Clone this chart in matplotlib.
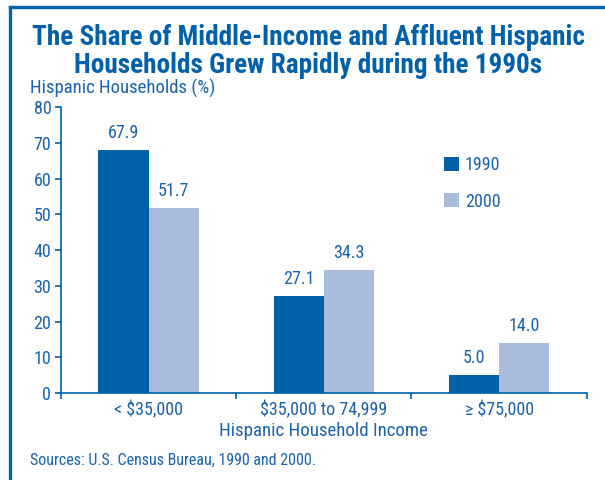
import numpy as np
import matplotlib.pyplot as plt
from matplotlib.lines import Line2D

plt.rcParams['font.family'] = ['Roboto Condensed', 'Archivo Narrow', 'PT Sans Narrow',
                               'Liberation Sans Narrow', 'DejaVu Sans']

# Share of Hispanic households by income bracket
categories = ['< $35,000', '$35,000 to 74,999', '\u2265 $75,000']
share_1990 = [67.9, 27.1, 5.0]
share_2000 = [51.7, 34.3, 14.0]
years = ['1990', '2000']

blue = '#0060a8'
light = '#aabcdc'
text_blue = '#1c62a8'

fig = plt.figure(figsize=(6.05, 4.8), dpi=100)
ax = fig.add_axes([0.1008, 0.181, 0.869, 0.596])

x = np.arange(len(categories))
w = 0.286
b1 = ax.bar(x - w / 2, share_1990, w, color=blue, label=years[0])
b2 = ax.bar(x + w / 2, share_2000, w, color=light, label=years[1])

for bars, vals in [(b1, share_1990), (b2, share_2000)]:
    for r, v in zip(bars, vals):
        ax.annotate(f'{v:.1f}', (r.get_x() + r.get_width() / 2, v),
                    xytext=(0, 6), textcoords='offset points',
                    ha='center', va='bottom', fontsize=13, color=text_blue)

ax.set_xlim(-0.5, 2.5)
ax.set_ylim(0, 80)
ax.set_yticks(range(0, 81, 10))
ax.set_xticks(x)
ax.set_xticklabels(categories)
ax.set_xticks([-0.5, 0.5, 1.5, 2.5], minor=True)
ax.tick_params(axis='x', which='major', length=0, pad=6, labelsize=13, labelcolor=text_blue)
ax.tick_params(axis='x', which='minor', length=4, color=blue, width=1.2)
ax.tick_params(axis='y', length=4, color=blue, width=1.2, pad=3, labelsize=13, labelcolor=text_blue)

for s in ['top', 'right']:
    ax.spines[s].set_visible(False)
for s in ['left', 'bottom']:
    ax.spines[s].set_color(blue)
    ax.spines[s].set_linewidth(1.2)

ax.set_xlabel('Hispanic Household Income', fontsize=13.6, color=text_blue, labelpad=2)

leg = ax.legend(frameon=False, loc='upper left', bbox_to_anchor=(0.698, 0.884),
                handlelength=0.8, handleheight=0.8, handletextpad=0.35,
                labelspacing=1.0, fontsize=13)
for t in leg.get_texts():
    t.set_color(text_blue)

fig.text(0.51, 0.892, 'The Share of Middle-Income and Affluent Hispanic\n'
         'Households Grew Rapidly during the 1990s',
         ha='center', va='center', fontsize=19.6, fontweight='bold',
         color=blue, linespacing=1.05)
fig.text(0.05, 0.816, 'Hispanic Households (%)', fontsize=13.5, color=text_blue,
         ha='left', va='center')
fig.text(0.05, 0.041, 'Sources: U.S. Census Bureau, 1990 and 2000.', fontsize=11.5,
         color=text_blue, ha='left', va='center')

# Border along the top and left side
fig.add_artist(Line2D([10 / 605, 1], [1 - 7 / 480, 1 - 7 / 480], color=blue, lw=2.4,
                      transform=fig.transFigure))
fig.add_artist(Line2D([10 / 605, 10 / 605], [0, 1 - 7 / 480], color=blue, lw=2.4,
                      transform=fig.transFigure))

fig.savefig('out.png', dpi=100)
